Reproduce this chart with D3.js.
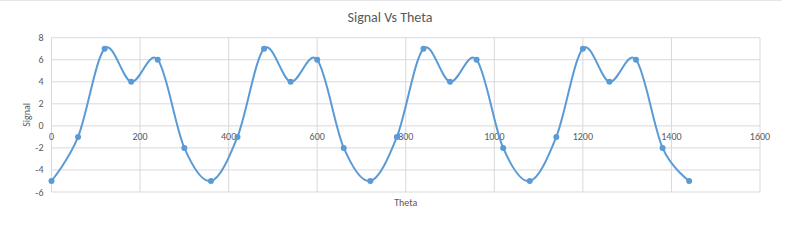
<!DOCTYPE html>
<html><head><meta charset="utf-8">
<script src="https://cdn.jsdelivr.net/npm/d3@7"></script>
<style>body{margin:0;background:#fff;}svg{display:block;font-family:Calibri,Carlito,"Open Sans",sans-serif;}</style>
</head><body>
<svg id="c" width="800" height="249"></svg>
<script>
const theta = [0,60,120,180,240,300,360,420,480,540,600,660,720,780,840,900,960,1020,1080,1140,1200,1260,1320,1380,1440];
const signal = [-5,-1,7,4,6,-2,-5,-1,7,4,6,-2,-5,-1,7,4,6,-2,-5,-1,7,4,6,-2,-5];
const xTicks = [0,200,400,600,800,1000,1200,1400,1600];
const yTicks = [-6,-4,-2,0,2,4,6,8];

const svg = d3.select("#c");
const x = d3.scaleLinear().domain([0,1600]).range([51.5,760]);
const y = d3.scaleLinear().domain([-6,8]).range([192,37.7]);
const txt = "#595959", grid = "#d9d9d9";

svg.append("line").attr("x1",0).attr("x2",782).attr("y1",0.5).attr("y2",0.5).attr("stroke","#e6e6e6");

// gridlines
svg.append("g").selectAll("line").data(yTicks).join("line")
  .attr("x1",x(0)).attr("x2",x(1600)).attr("y1",d=>y(d)).attr("y2",d=>y(d))
  .attr("stroke",grid).attr("stroke-width",1);
svg.append("g").selectAll("line").data(xTicks).join("line")
  .attr("x1",d=>x(d)).attr("x2",d=>x(d)).attr("y1",y(-6)).attr("y2",y(8))
  .attr("stroke",grid).attr("stroke-width",1);

// y tick labels
svg.append("g").selectAll("text").data(yTicks).join("text")
  .attr("x",x(0)-8).attr("y",d=>y(d)).attr("dy","0.35em").attr("text-anchor","end")
  .attr("font-size",10).attr("fill",txt).text(d=>d);
// x tick labels
svg.append("g").selectAll("text").data(xTicks).join("text")
  .attr("x",d=>x(d)).attr("y",y(0)+11).attr("dy","0.35em").attr("text-anchor","middle")
  .attr("font-size",10).attr("fill",txt).text(d=>d);

// line
const line = d3.line().x((d,i)=>x(theta[i])).y(d=>y(d)).curve(d3.curveCatmullRom.alpha(0));
svg.append("path").datum(signal).attr("d",line).attr("fill","none")
  .attr("stroke","#5b9bd5").attr("stroke-width",2);
svg.append("g").selectAll("circle").data(signal).join("circle")
  .attr("cx",(d,i)=>x(theta[i])).attr("cy",d=>y(d)).attr("r",3).attr("fill","#5b9bd5");

// titles
svg.append("text").attr("x",390).attr("y",22).attr("text-anchor","middle")
  .attr("font-size",14).attr("fill",txt).text("Signal Vs Theta");
svg.append("text").attr("x",(x(0)+x(1600))/2).attr("y",206).attr("text-anchor","middle")
  .attr("font-size",10).attr("fill",txt).text("Theta");
svg.append("text").attr("transform",`translate(30,${(y(8)+y(-6))/2}) rotate(-90)`).attr("text-anchor","middle")
  .attr("font-size",10).attr("fill",txt).text("Signal");
</script>
</body></html>
